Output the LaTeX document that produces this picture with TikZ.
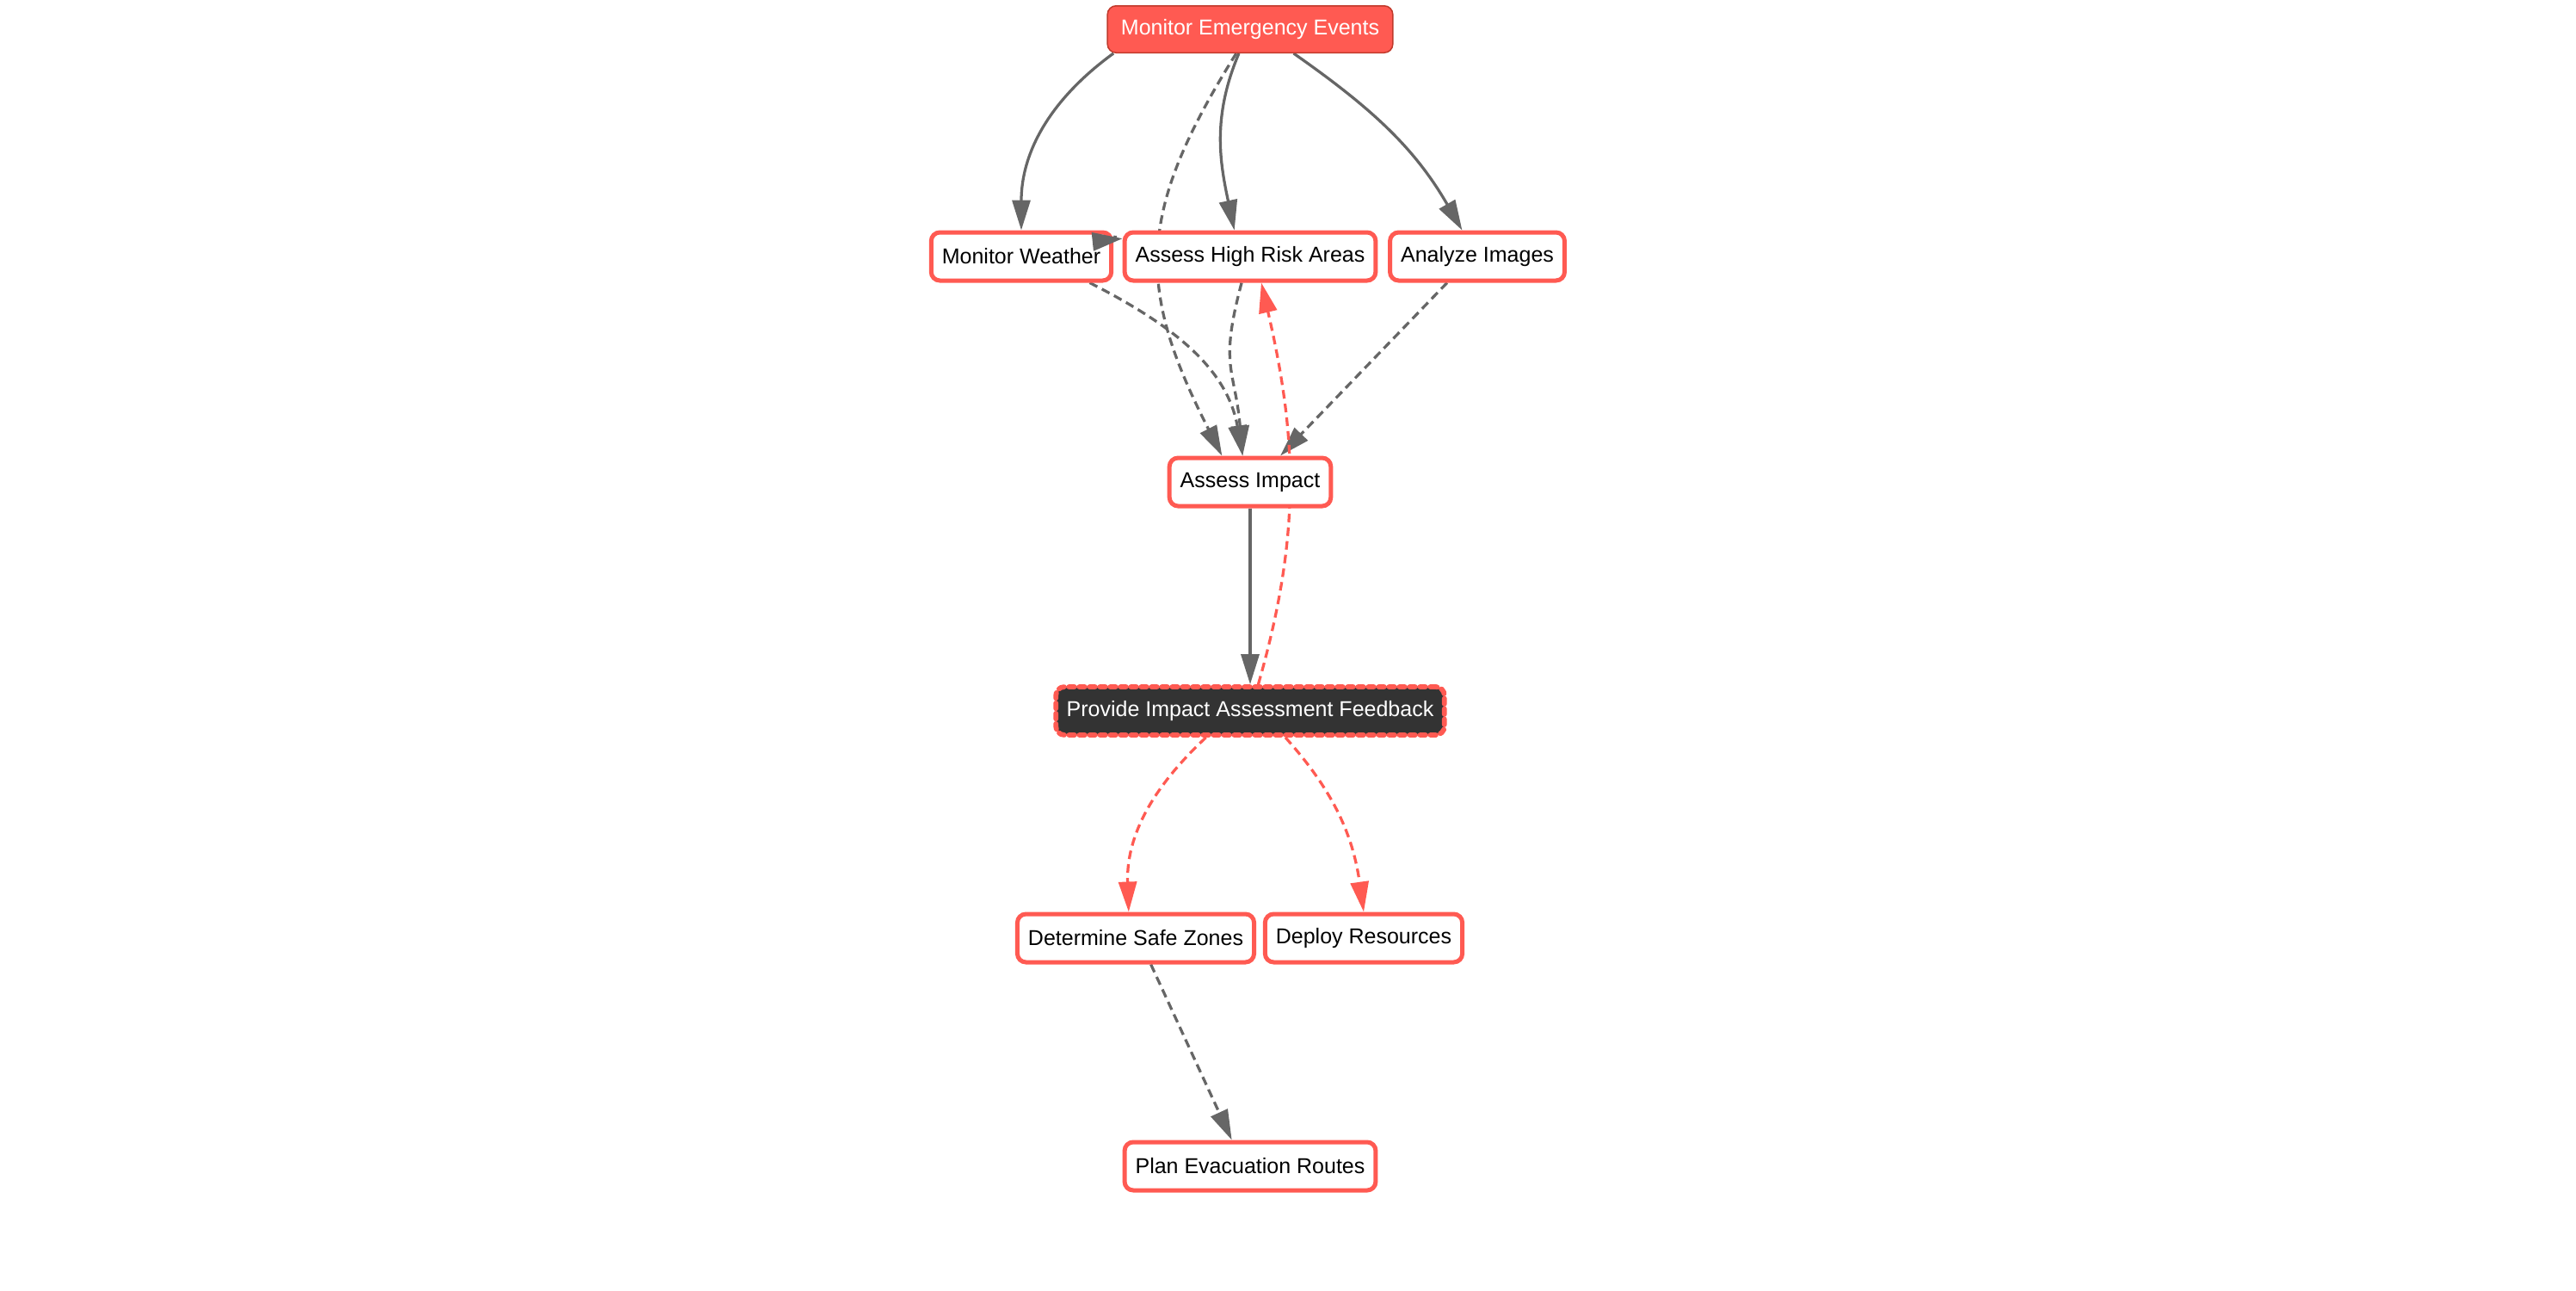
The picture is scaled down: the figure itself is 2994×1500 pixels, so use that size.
\documentclass[tikz,border=0pt]{standalone}
\usepackage{fontspec}
\setmainfont{Liberation Sans}
\usetikzlibrary{arrows.meta}
\usetikzlibrary{backgrounds}
\definecolor{alertred}{HTML}{FF5A52}
\definecolor{darkred}{HTML}{C0392B}
\definecolor{edgegray}{HTML}{666666}
\definecolor{darkfill}{HTML}{333333}
\begin{document}
\begin{tikzpicture}[x=0.4pt,y=0.4pt,font=\fontsize{10}{12}\selectfont,
    box/.style={draw=alertred,line width=2pt,fill=white,rounded corners=4pt,
      inner xsep=5pt,minimum height=22.4pt},
    startbox/.style={box,fill=alertred,draw=darkred,line width=0.6pt,text=white,
      inner xsep=6.3pt,minimum height=21.8pt},
    feedbox/.style={box,fill=darkfill,text=white,line width=2.3pt,line cap=round,
      dash pattern=on 2.6pt off 2.2pt},
    flow/.style={draw=edgegray,line width=1.3pt,-{Triangle[length=14pt,width=8.4pt]}},
    dflow/.style={flow,dash pattern=on 4pt off 2.4pt},
    rflow/.style={dflow,draw=alertred}]
  \useasboundingbox (0,0) rectangle (2994,-1500);
  % event
  \node[startbox] (mee) at (1453,-34) {Monitor Emergency Events};
  % first row
  \node[box] (mw) at (1187,-298) {Monitor Weather};
  \node[box] (ahra) at (1453,-298) {Assess High Risk Areas};
  \node[box] (ani) at (1717,-298) {Analyze Images};
  % impact
  \node[box] (ai) at (1453,-560) {Assess Impact};
  \node[feedbox] (piaf) at (1453,-826) {Provide Impact Assessment Feedback};
  % response
  \node[box] (dsz) at (1320,-1090) {Determine Safe Zones};
  \node[box] (dr) at (1585,-1090) {Deploy Resources};
  \node[box] (per) at (1453,-1355) {Plan Evacuation Routes};
  % edges, under the boxes
  \begin{scope}[on background layer]
    \draw[flow] (mee.190) to[out=216,in=90] (mw.north);
    \draw[dflow] (mee.240) to[out=238,in=117,looseness=1.2] (ai.137);
    \draw[flow] (mee.245) to[out=247,in=102] (ahra.121);
    \draw[flow] (mee.331) to[out=325,in=120] (ani.120);
    \draw[dflow] (mw.339) to[out=333,in=100] (ai.106);
    \draw[dflow] (ahra.252) to[out=255,in=95,looseness=1.3] (ai.106);
    \draw[dflow] (ani.221) -- (ai.41);
    \draw[flow] (ai) -- (piaf);
    \draw[rflow] (piaf.73) to[out=74,in=283] (ahra.293);
    \draw[rflow] (piaf.211) to[out=223,in=92] (dsz.105);
    \draw[rflow] (piaf.323) to[out=312,in=98] (dr.north);
    \draw[dflow] (dsz.300) -- (per.125);
  \end{scope}
  \draw[flow] (mw.12) to[out=6,in=186] (ahra.172);
\end{tikzpicture}
\end{document}
